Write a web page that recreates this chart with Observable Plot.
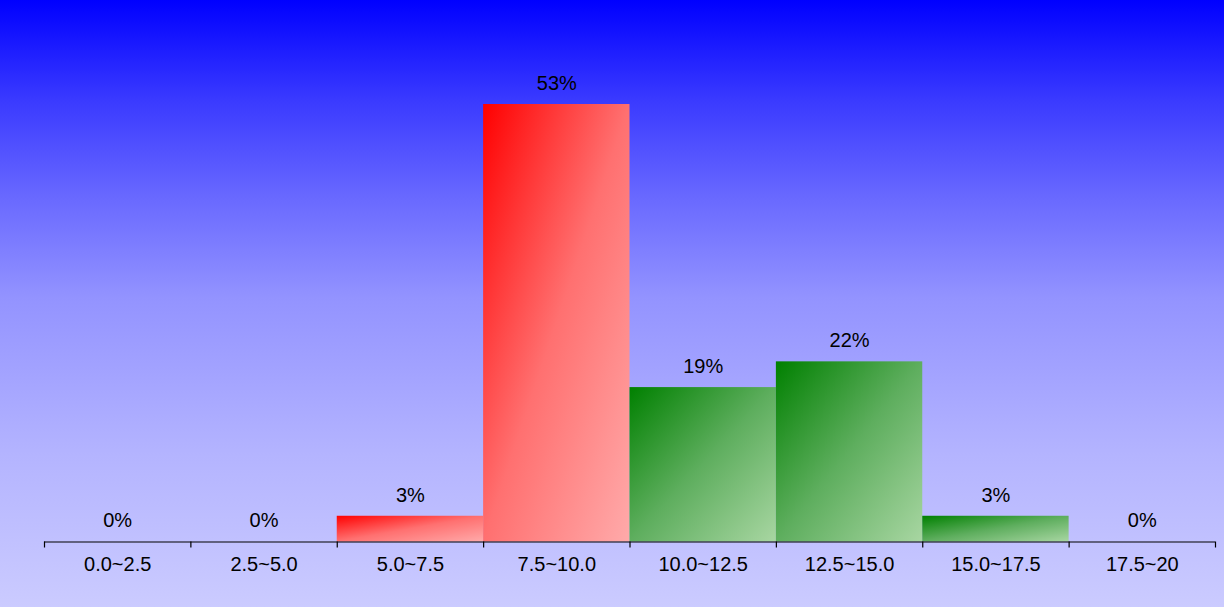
<!DOCTYPE html>
<html>
<head>
<meta charset="utf-8">
<script src="https://cdn.jsdelivr.net/npm/d3@7"></script>
<script src="https://cdn.jsdelivr.net/npm/@observablehq/plot@0.6"></script>
<style>
  html, body { margin: 0; padding: 0; background: #ccccff; }
  #chart { width: 1224px; height: 607px; }
</style>
</head>
<body>
<div id="chart"></div>
<script>
const categories = ["0.0~2.5", "2.5~5.0", "5.0~7.5", "7.5~10.0", "10.0~12.5", "12.5~15.0", "15.0~17.5", "17.5~20"];
const binEdges = [0, 2.5, 5, 7.5, 10, 12.5, 15, 17.5, 20];
const percentValues = [0, 0, 3.125, 53.125, 18.75, 21.875, 3.125, 0];
const colorGroup = ["red", "red", "red", "red", "green", "green", "green", "green"];

const data = categories.map((c, i) => ({
  category: c,
  x1: binEdges[i],
  x2: binEdges[i + 1],
  mid: (binEdges[i] + binEdges[i + 1]) / 2,
  value: percentValues[i],
  label: Math.round(percentValues[i]) + "%",
  group: colorGroup[i]
}));

const chart = Plot.plot({
  width: 1224,
  height: 607,
  marginLeft: 44,
  marginRight: 9,
  marginTop: 104,
  marginBottom: 65.5,
  style: {
    background: "linear-gradient(to bottom, #0000ff 0%, #3a3aff 16.5%, #6a6aff 33%, #9393ff 49%, #b4b4ff 75%, #cbcbff 100%)",
    fontFamily: "'Liberation Sans', Arial, sans-serif",
    fontSize: "20px",
    color: "black",
    overflow: "visible"
  },
  x: { domain: [0, 20], axis: null },
  y: { domain: [0, d3.max(percentValues)], axis: null },
  marks: [
    Plot.rectY(data.filter(d => d.value > 0), {
      x1: "x1", x2: "x2", y1: 0, y2: "value",
      fill: d => d.group === "red" ? "url(#gradRed)" : "url(#gradGreen)",
      inset: 0
    }),
    Plot.ruleY([0], { stroke: "black", strokeWidth: 1.2 }),
    Plot.axisX({ ticks: binEdges, tickFormat: () => "", tickSize: 6, stroke: "black", strokeWidth: 1.2 }),
    Plot.text(data, { x: "mid", y: "value", text: "label", dy: -21, fontSize: 20, fill: "black" }),
    Plot.text(data, { x: "mid", y: 0, text: "category", dy: 22.5, fontSize: 20, fill: "black" })
  ]
});

const svg = d3.select(chart);
const defs = svg.insert("defs", ":first-child");
function addGrad(id, stops) {
  const g = defs.append("linearGradient").attr("id", id)
    .attr("x1", 0).attr("y1", 0).attr("x2", 1).attr("y2", 1);
  stops.forEach(([o, c]) => g.append("stop").attr("offset", o).attr("stop-color", c));
}
addGrad("gradRed", [[0, "#ff0000"], [0.5, "#ff7070"], [1, "#ffaaaa"]]);
addGrad("gradGreen", [[0, "#008000"], [0.5, "#5eae5e"], [1, "#a8d6a2"]]);

document.getElementById("chart").appendChild(chart);
</script>
</body>
</html>
